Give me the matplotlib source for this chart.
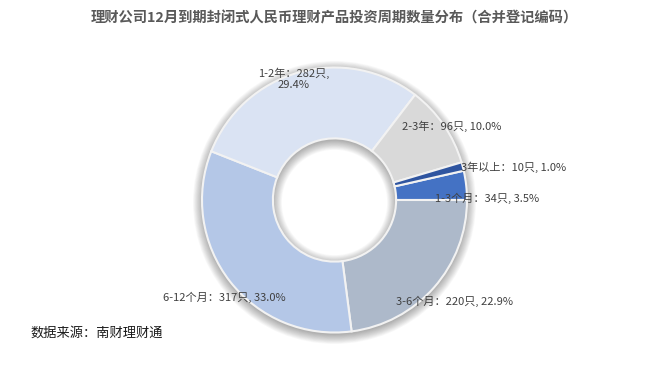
import numpy as np
import matplotlib.pyplot as plt
from matplotlib.patches import Wedge

plt.rcParams['font.family'] = ['Noto Sans CJK SC', 'DejaVu Sans']

# data (counts of products by investment period)
categories = ['1-3个月', '3-6个月', '6-12个月', '1-2年', '2-3年', '3年以上']
counts = [34, 220, 317, 282, 96, 10]
colors = ['#4472C4', '#ADB9CA', '#B4C7E7', '#DAE3F3', '#D9D9D9', '#2F55A0']

title = '理财公司12月到期封闭式人民币理财产品投资周期数量分布（合并登记编码）'
source = '数据来源：南财理财通'

W, H = 667, 366
fig = plt.figure(figsize=(W / 100, H / 100), dpi=100)

# pie geometry in pixels
cx, cy, R = 334.5, 200, 132.5
r_in = 0.465
pad = 1.12
side = 2 * R * pad
ax = fig.add_axes([(cx - side / 2) / W, 1 - (cy + side / 2) / H, side / W, side / H])
ax.set_xlim(-pad, pad)
ax.set_ylim(-pad, pad)
ax.axis('off')

# soft drop shadow under the ring
px = 1 / R
for s in np.linspace(0, 9, 12):
    ring = Wedge((0, -2.5 * px), 1 + s * px, 0, 360, width=1 - r_in + 2 * s * px,
                 facecolor='#000000', edgecolor='none', alpha=0.028, zorder=0)
    ax.add_patch(ring)

total = sum(counts)
start = 360 * counts[0] / total
ax.pie(counts, colors=colors, radius=1, startangle=start, counterclock=False,
       wedgeprops=dict(width=1 - r_in, edgecolor='#f2f2f2', linewidth=1.5))
ax.set_xlim(-pad, pad)
ax.set_ylim(-pad, pad)

# label positions (pixel centres)
label_pos = [(487, 198), (455, 301), (224, 297), (294, 79), (452, 126), (514, 167)]
for name, n, (lx, ly) in zip(categories, counts, label_pos):
    # source truncates the share to one decimal
    pct = np.floor(n / total * 1000) / 10
    if name == '1-2年':
        txt = f'{name}：{n}只,\n{pct:.1f}%'
    else:
        txt = f'{name}：{n}只, {pct:.1f}%'
    fig.text(lx / W, 1 - ly / H, txt, ha='center', va='center', fontsize=8,
             color='#404040', linespacing=1.15)

fig.text(cx / W, 1 - 18 / H, title, ha='center', va='center', fontsize=10.3,
         fontweight='bold', color='#595959')
fig.text(30 / W, 1 - 333 / H, source, ha='left', va='center', fontsize=9.5,
         color='#1a1a1a')

fig.savefig('out.png', dpi=100)
